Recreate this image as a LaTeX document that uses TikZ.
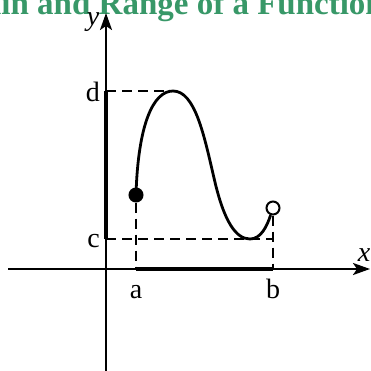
\documentclass[tikz,border=0pt]{standalone}
\usepackage{fontspec}
\setmainfont{Liberation Serif}
\usepackage{xcolor}
\usetikzlibrary{arrows.meta,positioning}
\definecolor{titlegreen}{RGB}{56,152,104}
\begin{document}
\begin{tikzpicture}[x=1pt,y=-1pt,font=\fontsize{28}{32}\selectfont,
    axis/.style={line width=2.4pt,-{Stealth[length=17pt,width=12pt,inset=4pt]}},
    guide/.style={line width=2pt,dash pattern=on 10pt off 6pt},
    interval/.style={line width=4pt},
    graph/.style={line width=2.8pt},
    dot/.style={circle,draw,line width=2pt,inner sep=0pt,minimum size=13pt}]
    \useasboundingbox (0,0) rectangle (370,371);
    % title
    \node[text=titlegreen,font=\fontsize{33}{37}\selectfont\bfseries,
      anchor=base east,inner sep=0pt] (title) at (384,15) {Domain and Range of a Function};
    % axes
    \coordinate (xl) at (8,269);
    \coordinate (xr) at (370,269);
    \coordinate (yb) at (106,371);
    \coordinate (yt) at (106,13);
    \draw[axis] (xl) -- (xr);
    \draw[axis] (yb) -- (yt);
    \node[anchor=base,font=\fontsize{28}{32}\selectfont\itshape] (xlab) at (364,261) {x};
    \node[anchor=base,font=\fontsize{28}{32}\selectfont\itshape] (ylab) at (93,26) {y};
    % domain and range
    \coordinate (a) at (136,269);
    \coordinate (b) at (273,269);
    \coordinate (c) at (106,239);
    \coordinate (d) at (106,91);
    \coordinate (cb) at (273,239);
    \coordinate (top) at (170,91);
    \draw[interval] (a) -- (b);
    \draw[interval] (c) -- (d);
    \node[anchor=base] (alab) at (136,298) {a};
    \node[anchor=base] (blab) at (273,298) {b};
    \node[anchor=base east,inner sep=1pt] (clab) at (101,247) {c};
    \node[anchor=base east,inner sep=1pt] (dlab) at (101,102) {d};
    % end points
    \node[dot,fill=black] (A) at (136,195) {};
    \node[dot,fill=white] (B) at (273,208) {};
    \draw[guide] (d) -- (top);
    \draw[guide] (c) -- (cb);
    \draw[guide] (A) -- (a);
    \draw[guide] (B) -- (b);
    % the function
    \draw[graph] (A.center) .. controls (138,125) and (153,91) .. (173,91)
      .. controls (195,91) and (204,135) .. (214,178)
      .. controls (224,222) and (236,239) .. (250,239)
      .. controls (261,239) and (267,226) .. (B);
\end{tikzpicture}
\end{document}
